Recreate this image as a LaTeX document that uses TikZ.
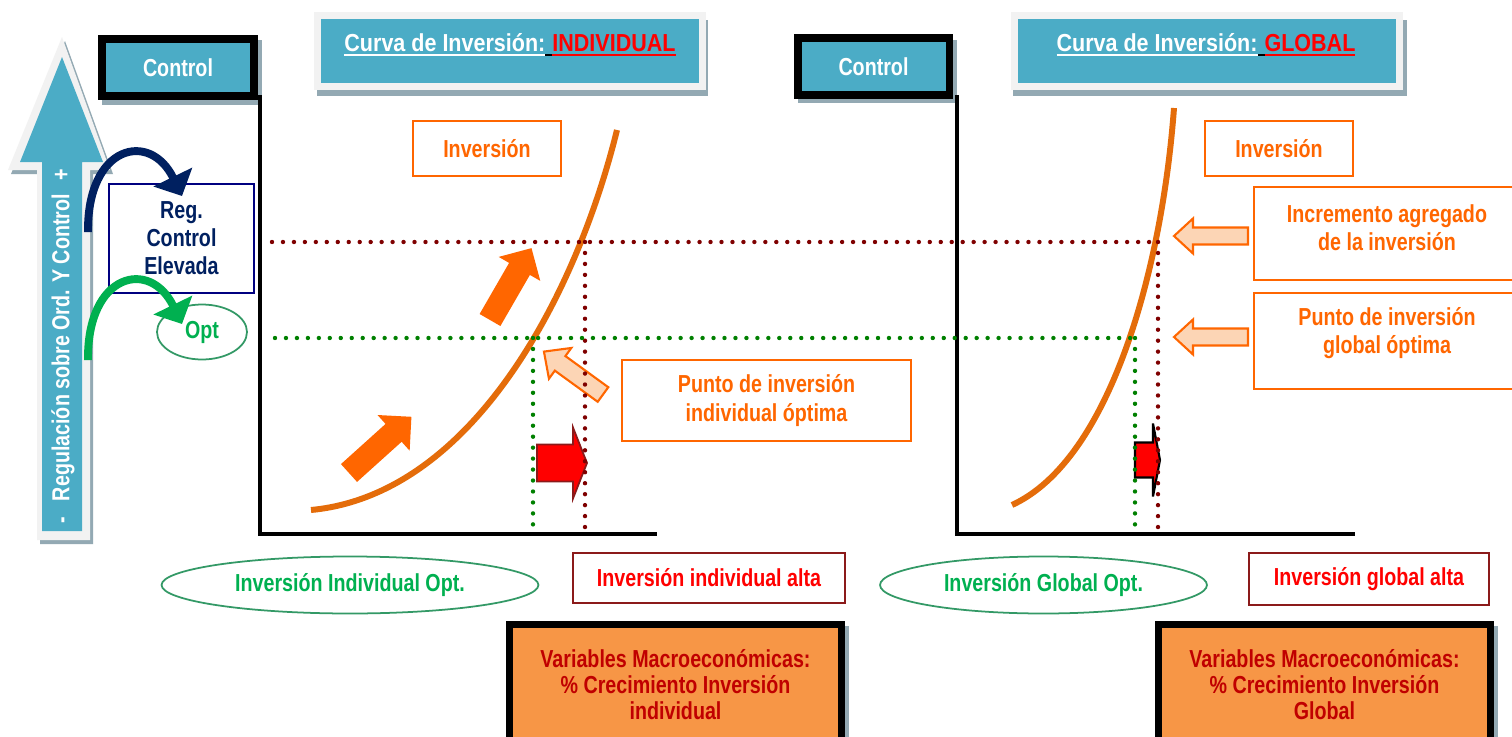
\documentclass[tikz,border=0pt]{standalone}
\usepackage{fontspec}
\setmainfont{Liberation Sans}[FakeStretch=0.8]
\newfontfamily\titlefont{Liberation Sans}[FakeStretch=0.875]
\usetikzlibrary{shapes.geometric,arrows.meta,calc}
\definecolor{cblue}{HTML}{4BACC6}
\definecolor{cframe}{HTML}{F2F2F2}
\definecolor{cshadow}{HTML}{93A9B3}
\definecolor{corange}{HTML}{FF6600}
\definecolor{ccurve}{HTML}{E46C0A}
\definecolor{clight}{HTML}{FCD5B5}
\definecolor{cdred}{HTML}{7F0000}
\definecolor{cdgreen}{HTML}{008000}
\definecolor{cgreen}{HTML}{00B050}
\definecolor{cgreenb}{HTML}{339966}
\definecolor{cnavy}{HTML}{002060}
\definecolor{cnavyb}{HTML}{000080}
\definecolor{cmacro}{HTML}{F79646}
\definecolor{cmacrot}{HTML}{C00000}
\definecolor{credb}{HTML}{8B1A1A}
\definecolor{cred}{HTML}{FF0000}
\newcommand{\uln}[1]{\vtop{\hbox{#1}\kern1.5pt\hrule height 1.1pt}}
% block arrow: style, tail point, angle, length, shaft width, head width, head length
\newcommand{\blockarrow}[7]{%
  \path[#1,shift={#2},rotate=#3] (0,{-#5/2}) -- ({#4-#7},{-#5/2}) -- ({#4-#7},{-#6/2})
    -- (#4,0) -- ({#4-#7},{#6/2}) -- ({#4-#7},{#5/2}) -- (0,{#5/2}) -- cycle;}
\tikzset{
  txt/.style={font=\bfseries\fontsize{14}{16}\selectfont, inner sep=0pt, align=center},
  ctrlbox/.style={txt, draw=black, line width=4.54pt, fill=cblue, text=white,
    minimum width=3.04cm, minimum height=1.14cm},
  titlebox/.style={draw=cframe, line width=3.97pt, fill=cblue,
    minimum width=7.7cm, minimum height=1.42cm, inner sep=0pt},
  titletxt/.style={font=\titlefont\bfseries\fontsize{14}{16}\selectfont, inner sep=0pt, text=white},
  invbox/.style={txt, draw=corange, line width=1.4pt, text=corange},
  redbox/.style={txt, draw=credb, line width=1.4pt, text=cred},
  optell/.style={txt, ellipse, draw=cgreenb, line width=1pt, text=cgreen},
  macrobox/.style={txt, draw=black, line width=3.97pt, fill=cmacro, text=cmacrot,
    minimum width=6.64cm, minimum height=2.4cm, font=\bfseries\fontsize{14}{15}\selectfont},
  axisline/.style={line width=2.27pt, black},
  curveline/.style={line width=3.4pt, ccurve},
  reddots/.style={cdred, line width=2.5pt, line cap=round, dash pattern=on 0pt off 6.24pt},
  greendots/.style={cdgreen, line width=2.5pt, line cap=round, dash pattern=on 0pt off 6.24pt},
  solidarrow/.style={fill=corange},
  lightarrow/.style={fill=clight, draw=corange, line width=1.2pt},
}
\begin{document}
\begin{tikzpicture}[x=0.02cm,y=-0.02cm]
\useasboundingbox (0,0) rectangle (1512,737);
\clip (0,0) rectangle (1512,737);
\fill[white] (0,0) rectangle (1512,737);

% ---------- big vertical arrow ----------
\fill[cshadow, shift={(3,4)}] (62,37) -- (110,170) -- (90,170) -- (90,540) -- (37,540) -- (37,170) -- (8,170) -- cycle;
\fill[cframe] (62,37) -- (110,170) -- (90,170) -- (90,540) -- (37,540) -- (37,170) -- (8,170) -- cycle;
\fill[cblue] (62,57) -- (103,162) -- (82,162) -- (82,531) -- (42,531) -- (42,162) -- (20,162) -- cycle;
\node[txt, rotate=90, text=white] (regtxt) at (63,346) {-\hspace{9pt}Regulación sobre Ord. Y Control\hspace{8pt}+};

% ---------- control boxes ----------
\fill[cshadow] (102,40) rectangle (262,105);
\node[ctrlbox] (ctrlL) at (178,67.5) {Control};
\fill[cshadow] (798,40) rectangle (957,103);
\node[ctrlbox] (ctrlR) at (873.5,66.5) {Control};

% ---------- title boxes ----------
\fill[cshadow] (317,20) rectangle (708,96);
\node[titlebox] (titleL) at (510,51) {};
\node[titletxt] (titleLt) at (510,45) {\uln{Curva de Inversión:}\textcolor{black}{\uln{\hbox to 4pt{}}}\textcolor{red}{\uln{INDIVIDUAL}}};
\fill[cshadow] (1013,20) rectangle (1407,96);
\node[titlebox] (titleR) at (1207,51) {};
\node[titletxt] (titleRt) at (1206,45) {\uln{Curva de Inversión:}\textcolor{black}{\uln{\hbox to 4pt{}}}\textcolor{red}{\uln{GLOBAL}}};

% ---------- Reg / Opt ----------
\node[txt, draw=cnavyb, line width=1.1pt, text=cnavy, minimum width=2.9cm, minimum height=2.18cm] (reg) at (181.5,238.5) {Reg.\\Control\\Elevada};
\node[optell, minimum width=1.8cm, minimum height=1.1cm] (opt) at (202,332) {Opt};
\coordinate (navyS) at (88,232);
\coordinate (navyE) at (182,196);
\draw[cnavy, line width=4.5pt, -{Triangle[length=12pt,width=24pt]}] (navyS) .. controls (87,145) and (150,130) .. (navyE);
\coordinate (greenS) at (88,360);
\coordinate (greenE) at (182,324);
\draw[cgreen, line width=4.5pt, -{Triangle[length=12pt,width=24pt]}] (greenS) .. controls (87,273) and (150,258) .. (greenE);

% ---------- axes ----------
\coordinate (axLtop) at (260,95);
\coordinate (axLo) at (260,534);
\coordinate (axLend) at (657,534);
\draw[axisline] (axLtop) -- (axLo) -- (axLend);
\coordinate (axRtop) at (957,95);
\coordinate (axRo) at (957,534);
\coordinate (axRend) at (1355,534);
\draw[axisline] (axRtop) -- (axRo) -- (axRend);

% ---------- block arrows ----------
\blockarrow{solidarrow}{(349,473)}{42}{84}{24}{48}{24}
\blockarrow{solidarrow}{(490,320)}{60}{83}{24}{48}{24}
\blockarrow{lightarrow}{(603,394.5)}{144}{73}{18}{38}{20}
\blockarrow{fill=cred, draw=credb, line width=1pt}{(537,463)}{0}{50}{37}{71}{14}
\blockarrow{fill=cred, draw=black, line width=1.2pt}{(1135,460)}{0}{25}{35}{73}{7}
\blockarrow{lightarrow}{(1248,236)}{180}{74}{17}{35}{19}
\blockarrow{lightarrow}{(1248,337)}{180}{74}{17}{35}{19}

% ---------- curves ----------
\coordinate (cLs) at (311,510);
\coordinate (cLe) at (617,130);
\draw[curveline] (cLs) .. controls (470,495) and (575,300) .. (cLe);
\coordinate (cRs) at (1012,505);
\coordinate (cRe) at (1174,108);
\draw[curveline] (cRs) .. controls (1110,460) and (1162,270) .. (cRe);

% ---------- dotted guides ----------
\coordinate (rS) at (272,242);
\coordinate (rL) at (585,242);
\coordinate (rR) at (1158,242);
\coordinate (rLb) at (585,530);
\coordinate (rRb) at (1158,532);
\draw[reddots] (rS) -- (rR);
\draw[reddots] (rL) -- (rLb);
\draw[reddots] (rR) -- (rRb);
\coordinate (gS) at (275,338);
\coordinate (gL) at (533,338);
\coordinate (gR) at (1135,338);
\coordinate (gLb) at (533,525);
\coordinate (gRb) at (1135,525);
\draw[greendots] (gS) -- (gR);
\draw[greendots] (gL) -- (gLb);
\draw[greendots] (gR) -- (gRb);

% ---------- orange text boxes ----------
\node[invbox, minimum width=2.96cm, minimum height=1.1cm] (invL) at (487,148.5) {Inversión};
\node[invbox, minimum width=2.96cm, minimum height=1.1cm] (invR) at (1279,148.5) {Inversión};
\node[invbox, minimum width=5.78cm, minimum height=1.62cm] (ptoInd) at (766.5,400.5) {Punto de inversión\\individual óptima};
\node[invbox, minimum width=5.32cm, minimum height=1.86cm] (incBox) at (1387,233.5) {};
\node[txt, text=corange] (incTxt) at (1387,228) {Incremento agregado\\de la inversión};
\node[invbox, minimum width=5.32cm, minimum height=1.92cm] (ptoGBox) at (1387,341) {};
\node[txt, text=corange] (ptoGTxt) at (1387,333) {Punto de inversión\\global óptima};

% ---------- bottom labels ----------
\node[optell, minimum width=7.54cm, minimum height=1.14cm] (ellL) at (350,585) {Inversión Individual Opt.};
\node[redbox, minimum width=5.44cm, minimum height=1.0cm] (altaL) at (709,578) {Inversión individual alta};
\node[optell, minimum width=6.54cm, minimum height=1.14cm] (ellR) at (1043.5,585) {Inversión Global Opt.};
\node[redbox, minimum width=4.8cm, minimum height=1.04cm] (altaR) at (1369,579) {Inversión global alta};

% ---------- macro boxes ----------
\fill[cshadow] (512,626) rectangle (849,745);
\node[macrobox] (macL) at (675.5,684.5) {Variables Macroeconómicas:\\\% Crecimiento Inversión\\individual};
\fill[cshadow] (1161,626) rectangle (1498,745);
\node[macrobox] (macR) at (1324.5,684.5) {Variables Macroeconómicas:\\\% Crecimiento Inversión\\Global};
\end{tikzpicture}
\end{document}
